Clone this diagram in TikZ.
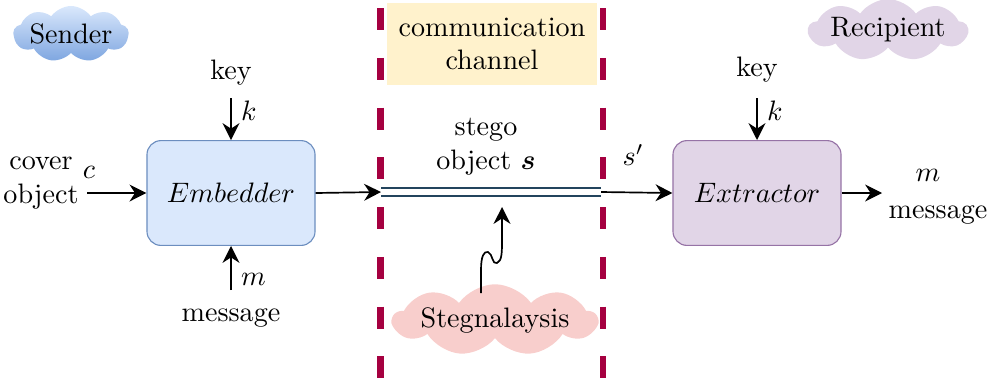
\documentclass[tikz,border=0pt]{standalone}
\usepackage{amsmath}
\usepackage{amssymb}
\usepackage{tikz}
\usetikzlibrary{arrows.meta, positioning, calc, shapes.symbols}

\definecolor{embfill}{HTML}{DAE8FC}
\definecolor{embline}{HTML}{6C8EBF}
\definecolor{extfill}{HTML}{E1D5E7}
\definecolor{extline}{HTML}{9673A6}
\definecolor{sendlow}{HTML}{7EA6E0}
\definecolor{stegfill}{HTML}{F8CECC}
\definecolor{chanfill}{HTML}{FFF2CC}
\definecolor{wallcol}{HTML}{A50040}
\definecolor{wirecol}{HTML}{23445D}

\begin{document}
\begin{tikzpicture}[
    x=0.0125cm, y=-0.0125cm, % pixel grid, y down
    every node/.style={font=\normalsize}, % one font size
    block/.style={draw, rounded corners=5pt, thin, minimum width=2.1cm, minimum height=1.31cm}, % Embedder / Extractor
    arr/.style={semithick, -{Stealth[length=6pt, width=6pt]}}, % black arrows
    puff/.style={cloud, cloud puffs=9, cloud puff arc=110, cloud ignores aspect, inner sep=0pt}, % cloud labels
    wall/.style={wallcol, line width=2.4pt, dash pattern=on 7.8pt off 9.9pt}, % channel borders
    wire/.style={wirecol, line width=0.5pt, double=white, double distance=2.4pt} % stego channel
]
    % 1. frame of the picture
    \useasboundingbox (0,0) rectangle (991,387);

    % 2. communication channel (yellow box + dashed borders)
    \node (chan) [fill=chanfill, minimum width=2.625cm, minimum height=1.025cm, align=center] at (492,44) {communication\\channel};
    \draw[wall] (380.5,8) -- (380.5,385);
    \draw[wall] (603,8) -- (603,385);

    % 3. clouds
    \node (sender) [puff, top color=embfill, bottom color=sendlow, minimum width=1.25cm, minimum height=0.7cm] at (71,34) {Sender};
    \node (recip) [puff, fill=extfill, minimum width=1.62cm, minimum height=0.7cm] at (888,30) {Recipient};
    \node (steg) [puff, fill=stegfill, minimum width=1.95cm, minimum height=0.66cm] at (495,320) {Stegnalaysis};

    % 4. blocks
    \node (emb) [block, fill=embfill, draw=embline] at (231,193) {$Embedder$};
    \node (ext) [block, fill=extfill, draw=extline] at (757,193) {$Extractor$};

    % 5. sender side: key, message, cover object
    \node (key1) at (231,73) {key};
    \coordinate (k1) at (231,98);
    \draw[arr] (k1) -- (emb.north) node[pos=0.3, right] {$k$};
    \node (msg1) at (231,318) {message};
    \coordinate (m1) at (231,290);
    \draw[arr] (m1) -- (emb.south) node[pos=0.25, right] {$m$};
    \node (cover) [align=center, inner sep=0pt] at (41,183) {cover\\object};
    \node (cvar) at (89,172) {$c$};
    \coordinate (c1) at (87,193);
    \draw[arr] (c1) -- (emb.west);

    % 6. stego channel
    \coordinate (chin) at (381,192);
    \coordinate (chout) at (601,192);
    \draw[arr] (emb.east) -- (chin);
    \draw[wire] (chin) -- (chout);
    \node (stego) [align=center, inner sep=0pt] at (486,147) {stego\\object $\boldsymbol{s}$};
    \draw[arr] (chout) -- (ext.west) node[pos=0.45, above=6pt] {$s'$};

    % 7. attack on the channel
    \coordinate (spy) at (481,293);
    \coordinate (hit) at (502,207);
    \draw[arr] (spy) -- (481,270) .. controls (481,256) and (484,251) .. (488,252)
        .. controls (493,254) and (492,265) .. (497,263)
        .. controls (502,261) and (502,252) .. (502,240) -- (hit);

    % 8. recipient side
    \node (key2) at (757,70) {key};
    \coordinate (k2) at (757,98);
    \draw[arr] (k2) -- (ext.north) node[pos=0.3, right] {$k$};
    \coordinate (mout) at (882,193);
    \draw[thin, -{Stealth[length=6pt, width=6pt]}] (ext.east) -- (mout);
    \node (mvar) at (928,175) {$m$};
    \node (msg2) at (938,215) {message};

\end{tikzpicture}
\end{document}
